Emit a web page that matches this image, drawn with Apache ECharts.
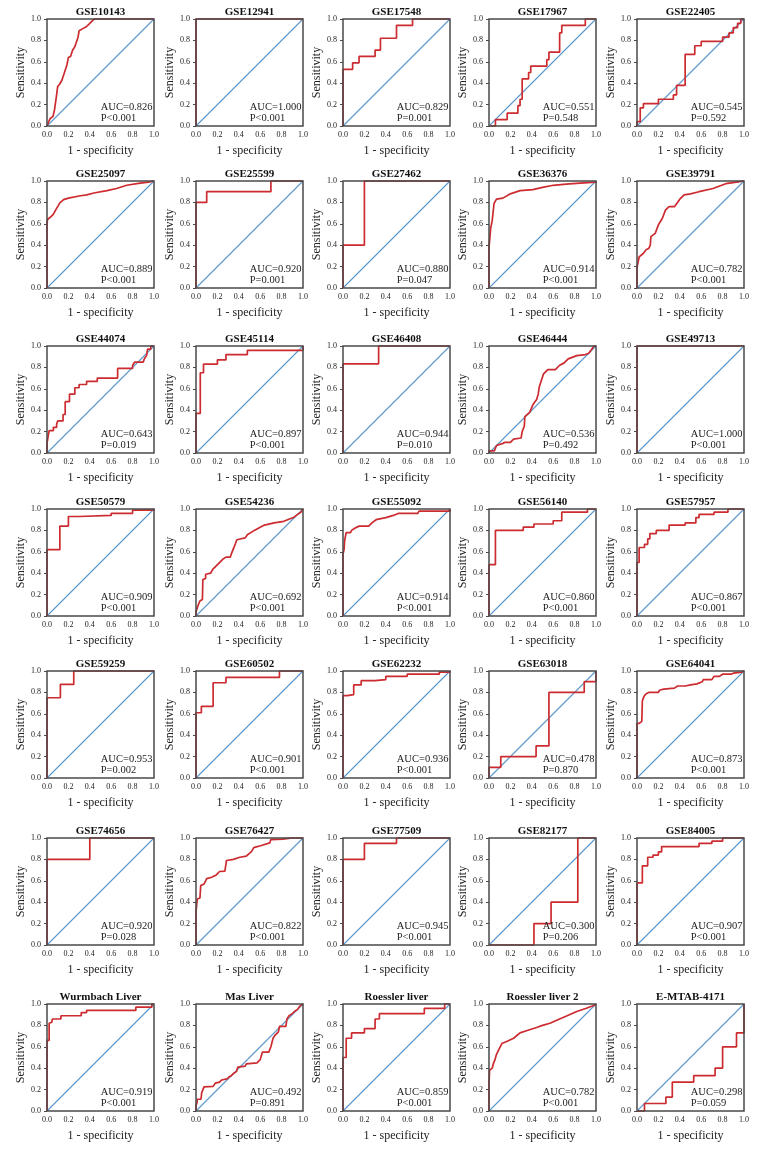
<!DOCTYPE html>
<html><head><meta charset="utf-8">
<script src="https://cdn.jsdelivr.net/npm/echarts@6/dist/echarts.min.js"></script>
<style>html,body{margin:0;padding:0;background:#fff}#c{width:765px;height:1154px}</style>
</head><body><div id="c"></div>
<script>
const names = ['GSE10143','GSE12941','GSE17548','GSE17967','GSE22405',
 'GSE25097','GSE25599','GSE27462','GSE36376','GSE39791',
 'GSE44074','GSE45114','GSE46408','GSE46444','GSE49713',
 'GSE50579','GSE54236','GSE55092','GSE56140','GSE57957',
 'GSE59259','GSE60502','GSE62232','GSE63018','GSE64041',
 'GSE74656','GSE76427','GSE77509','GSE82177','GSE84005',
 'Wurmbach Liver','Mas Liver','Roessler liver','Roessler liver 2','E-MTAB-4171'];
const aucs = ['0.826','1.000','0.829','0.551','0.545',
 '0.889','0.920','0.880','0.914','0.782',
 '0.643','0.897','0.944','0.536','1.000',
 '0.909','0.692','0.914','0.860','0.867',
 '0.953','0.901','0.936','0.478','0.873',
 '0.920','0.822','0.945','0.300','0.907',
 '0.919','0.492','0.859','0.782','0.298'];
const pvals = ['P<0.001','P<0.001','P=0.001','P=0.548','P=0.592',
 'P<0.001','P=0.001','P=0.047','P<0.001','P<0.001',
 'P=0.019','P<0.001','P=0.010','P=0.492','P<0.001',
 'P<0.001','P<0.001','P<0.001','P<0.001','P<0.001',
 'P=0.002','P<0.001','P<0.001','P=0.870','P<0.001',
 'P=0.028','P<0.001','P<0.001','P=0.206','P<0.001',
 'P<0.001','P=0.891','P<0.001','P<0.001','P=0.059'];
const diag = [[0,0],[1,1]];

const roc01 = [[0,0],[0.016,0.04],[0.03,0.07],[0.056,0.09],[0.07,0.15],[0.087,0.27],[0.1,0.37],[0.118,0.39],[0.14,0.43],[0.16,0.49],[0.186,0.57],[0.2,0.64],[0.22,0.65],[0.24,0.71],[0.26,0.74],[0.29,0.83],[0.3,0.89],[0.335,0.91],[0.37,0.93],[0.4,0.96],[0.43,0.99],[0.45,1],[1,1]];
const roc02 = [[0,0],[0,1],[1,1]];
const roc03 = [[0,0],[0,0.53],[0.09,0.53],[0.09,0.59],[0.15,0.59],[0.15,0.65],[0.3,0.65],[0.3,0.71],[0.35,0.71],[0.35,0.82],[0.5,0.82],[0.5,0.94],[0.65,0.94],[0.65,1],[1,1]];
const roc04 = [[0,0],[0.06,0],[0.06,0.06],[0.17,0.06],[0.17,0.12],[0.27,0.12],[0.27,0.19],[0.29,0.19],[0.29,0.25],[0.31,0.25],[0.31,0.44],[0.37,0.44],[0.37,0.5],[0.39,0.5],[0.39,0.56],[0.54,0.56],[0.54,0.62],[0.56,0.62],[0.56,0.69],[0.66,0.69],[0.66,0.87],[0.68,0.87],[0.68,0.94],[0.9,0.94],[0.9,1],[1,1]];
const roc05 = [[0,0],[0,0.04],[0.03,0.04],[0.03,0.17],[0.06,0.17],[0.06,0.21],[0.2,0.21],[0.2,0.25],[0.34,0.25],[0.34,0.29],[0.37,0.29],[0.37,0.38],[0.45,0.38],[0.45,0.67],[0.54,0.67],[0.54,0.75],[0.6,0.75],[0.6,0.79],[0.8,0.79],[0.8,0.83],[0.86,0.83],[0.86,0.87],[0.9,0.87],[0.9,0.92],[0.94,0.92],[0.94,0.96],[0.97,0.96],[0.97,1],[1,1]];
const roc06 = [[0,0],[0,0.6],[0.005,0.64],[0.02,0.65],[0.04,0.67],[0.06,0.69],[0.087,0.74],[0.12,0.795],[0.155,0.826],[0.2,0.84],[0.3,0.86],[0.37,0.87],[0.45,0.89],[0.56,0.91],[0.65,0.93],[0.745,0.96],[0.87,0.98],[0.95,0.99],[1,1]];
const roc07 = [[0,0],[0,0.8],[0.1,0.8],[0.1,0.9],[0.7,0.9],[0.7,1],[1,1]];
const roc08 = [[0,0],[0,0.4],[0.2,0.4],[0.2,1],[1,1]];
const roc09 = [[0,0],[0,0.38],[0.01,0.39],[0.016,0.56],[0.03,0.63],[0.04,0.72],[0.047,0.79],[0.07,0.83],[0.13,0.84],[0.2,0.88],[0.29,0.91],[0.41,0.92],[0.5,0.94],[0.6,0.96],[0.72,0.97],[0.85,0.98],[1,0.99],[1,1]];
const roc10 = [[0,0],[0,0.19],[0.01,0.19],[0.02,0.29],[0.056,0.32],[0.087,0.36],[0.11,0.37],[0.124,0.4],[0.13,0.48],[0.17,0.51],[0.2,0.59],[0.236,0.65],[0.267,0.73],[0.3,0.76],[0.35,0.76],[0.4,0.83],[0.44,0.87],[0.5,0.88],[0.58,0.9],[0.71,0.93],[0.83,0.975],[0.93,0.99],[1,1]];
const roc11 = [[0,0],[0,0.09],[0.01,0.15],[0.02,0.15],[0.02,0.21],[0.06,0.21],[0.06,0.24],[0.09,0.24],[0.09,0.27],[0.1,0.3],[0.15,0.3],[0.15,0.36],[0.17,0.36],[0.17,0.48],[0.21,0.48],[0.21,0.55],[0.26,0.55],[0.26,0.61],[0.3,0.61],[0.3,0.64],[0.37,0.64],[0.37,0.67],[0.47,0.67],[0.47,0.7],[0.66,0.7],[0.66,0.79],[0.8,0.79],[0.8,0.82],[0.82,0.85],[0.9,0.85],[0.91,0.88],[0.93,0.91],[0.94,0.97],[0.97,0.97],[0.97,1],[1,1]];
const roc12 = [[0,0],[0,0.37],[0.04,0.37],[0.04,0.75],[0.07,0.75],[0.07,0.83],[0.2,0.83],[0.2,0.87],[0.28,0.87],[0.28,0.92],[0.48,0.92],[0.48,0.96],[1,0.96],[1,1]];
const roc13 = [[0,0],[0,0.833],[0.333,0.833],[0.333,1],[1,1]];
const roc14 = [[0,0],[0,0.02],[0.05,0.02],[0.056,0.03],[0.07,0.07],[0.087,0.087],[0.13,0.09],[0.15,0.1],[0.2,0.1],[0.23,0.13],[0.3,0.14],[0.31,0.2],[0.33,0.25],[0.335,0.34],[0.38,0.38],[0.41,0.45],[0.445,0.5],[0.46,0.55],[0.47,0.62],[0.49,0.68],[0.51,0.74],[0.55,0.78],[0.62,0.78],[0.66,0.82],[0.7,0.84],[0.74,0.88],[0.82,0.91],[0.9,0.92],[0.93,0.93],[0.96,0.97],[0.98,1],[1,1]];
const roc15 = [[0,0],[0,1],[1,1]];
const roc16 = [[0,0],[0,0.62],[0.12,0.62],[0.12,0.84],[0.2,0.84],[0.2,0.93],[0.3,0.93],[0.3,0.94],[0.6,0.94],[0.6,0.96],[0.8,0.96],[0.8,0.99],[1,0.99],[1,1]];
const roc17 = [[0,0],[0,0.04],[0.014,0.05],[0.02,0.1],[0.036,0.14],[0.06,0.155],[0.064,0.34],[0.09,0.35],[0.09,0.39],[0.136,0.4],[0.16,0.44],[0.18,0.46],[0.21,0.49],[0.25,0.53],[0.28,0.55],[0.32,0.55],[0.33,0.58],[0.35,0.63],[0.37,0.68],[0.38,0.71],[0.41,0.72],[0.46,0.73],[0.48,0.76],[0.545,0.8],[0.6,0.83],[0.64,0.85],[0.73,0.87],[0.82,0.885],[0.91,0.92],[0.95,0.95],[0.98,0.97],[1,1]];
const roc18 = [[0,0],[0,0.58],[0.01,0.62],[0.015,0.7],[0.02,0.73],[0.03,0.78],[0.07,0.78],[0.08,0.8],[0.11,0.82],[0.15,0.84],[0.24,0.84],[0.27,0.87],[0.31,0.9],[0.4,0.92],[0.47,0.94],[0.52,0.96],[0.7,0.96],[0.71,0.98],[1,0.98],[1,1]];
const roc19 = [[0,0],[0,0.48],[0.06,0.48],[0.06,0.8],[0.32,0.8],[0.32,0.83],[0.42,0.83],[0.42,0.86],[0.6,0.86],[0.6,0.89],[0.68,0.89],[0.68,0.97],[0.92,0.97],[0.92,1],[1,1]];
const roc20 = [[0,0],[0,0.5],[0.02,0.5],[0.02,0.64],[0.07,0.64],[0.07,0.67],[0.1,0.67],[0.1,0.72],[0.12,0.72],[0.12,0.77],[0.18,0.77],[0.18,0.8],[0.3,0.8],[0.3,0.85],[0.45,0.85],[0.45,0.87],[0.55,0.87],[0.55,0.92],[0.58,0.92],[0.58,0.95],[0.72,0.95],[0.72,0.97],[0.85,0.97],[0.85,1],[1,1]];
const roc21 = [[0,0],[0,0.75],[0.125,0.75],[0.125,0.875],[0.25,0.875],[0.25,1],[1,1]];
const roc22 = [[0,0],[0,0.61],[0.05,0.61],[0.05,0.67],[0.16,0.67],[0.16,0.89],[0.28,0.89],[0.28,0.94],[0.78,0.94],[0.78,1],[1,1]];
const roc23 = [[0,0],[0,0.77],[0.04,0.77],[0.04,0.78],[0.1,0.78],[0.1,0.87],[0.17,0.87],[0.17,0.91],[0.3,0.91],[0.3,0.92],[0.4,0.92],[0.4,0.95],[0.6,0.95],[0.6,0.97],[0.9,0.97],[0.9,0.99],[1,0.99],[1,1]];
const roc24 = [[0,0],[0,0.1],[0.11,0.1],[0.11,0.2],[0.44,0.2],[0.44,0.3],[0.56,0.3],[0.56,0.8],[0.89,0.8],[0.89,0.9],[1,0.9],[1,1]];
const roc25 = [[0,0],[0,0.51],[0.02,0.51],[0.02,0.52],[0.045,0.53],[0.05,0.72],[0.06,0.75],[0.07,0.77],[0.09,0.79],[0.11,0.8],[0.2,0.8],[0.21,0.82],[0.25,0.83],[0.35,0.84],[0.38,0.86],[0.45,0.86],[0.5,0.87],[0.56,0.88],[0.61,0.9],[0.62,0.92],[0.7,0.92],[0.72,0.95],[0.77,0.95],[0.8,0.97],[0.88,0.97],[0.9,0.98],[0.98,0.99],[1,1]];
const roc26 = [[0,0],[0,0.8],[0.4,0.8],[0.4,1],[1,1]];
const roc27 = [[0,0],[0,0.31],[0.01,0.31],[0.012,0.43],[0.037,0.44],[0.044,0.555],[0.075,0.57],[0.09,0.6],[0.1,0.62],[0.146,0.633],[0.19,0.655],[0.22,0.687],[0.27,0.69],[0.285,0.79],[0.35,0.8],[0.41,0.82],[0.47,0.83],[0.52,0.875],[0.54,0.91],[0.61,0.93],[0.69,0.955],[0.7,0.985],[0.81,0.99],[0.9,1],[1,1]];
const roc28 = [[0,0],[0,0.8],[0.2,0.8],[0.2,0.95],[0.5,0.95],[0.5,1],[1,1]];
const roc29 = [[0,0],[0.42,0],[0.42,0.2],[0.58,0.2],[0.58,0.4],[0.83,0.4],[0.83,1],[1,1]];
const roc30 = [[0,0],[0,0.58],[0.05,0.58],[0.05,0.74],[0.1,0.74],[0.1,0.82],[0.15,0.82],[0.15,0.84],[0.2,0.84],[0.2,0.87],[0.23,0.87],[0.23,0.92],[0.58,0.92],[0.58,0.95],[0.7,0.95],[0.7,0.97],[0.8,0.97],[0.8,1],[1,1]];
const roc31 = [[0,0],[0,0.66],[0.02,0.66],[0.02,0.82],[0.045,0.83],[0.05,0.86],[0.13,0.86],[0.13,0.89],[0.32,0.89],[0.32,0.92],[0.37,0.92],[0.37,0.94],[0.83,0.94],[0.83,0.97],[0.98,0.97],[0.98,1],[1,1]];
const roc32 = [[0,0],[0,0.05],[0.01,0.08],[0.012,0.11],[0.047,0.11],[0.053,0.17],[0.065,0.2],[0.075,0.225],[0.16,0.23],[0.18,0.26],[0.22,0.27],[0.24,0.29],[0.29,0.3],[0.31,0.32],[0.33,0.33],[0.35,0.35],[0.38,0.37],[0.39,0.41],[0.4,0.42],[0.46,0.42],[0.47,0.44],[0.57,0.45],[0.6,0.48],[0.62,0.55],[0.68,0.55],[0.7,0.6],[0.71,0.64],[0.72,0.68],[0.74,0.71],[0.77,0.74],[0.78,0.79],[0.84,0.79],[0.85,0.86],[0.87,0.89],[0.9,0.91],[0.92,0.93],[0.95,0.95],[0.97,0.98],[1,1]];
const roc33 = [[0,0],[0,0.5],[0.03,0.5],[0.03,0.68],[0.08,0.68],[0.08,0.73],[0.2,0.73],[0.2,0.77],[0.3,0.77],[0.3,0.86],[0.34,0.86],[0.34,0.91],[0.76,0.91],[0.76,0.96],[0.95,0.96],[0.95,1],[1,1]];
const roc34 = [[0,0],[0,0.24],[0.005,0.38],[0.01,0.39],[0.03,0.4],[0.04,0.44],[0.056,0.48],[0.07,0.53],[0.085,0.56],[0.1,0.59],[0.12,0.63],[0.165,0.65],[0.23,0.68],[0.29,0.73],[0.35,0.75],[0.445,0.78],[0.5,0.8],[0.57,0.82],[0.66,0.86],[0.73,0.89],[0.82,0.93],[0.91,0.96],[0.99,0.99],[1,1]];
const roc35 = [[0,0],[0.07,0],[0.07,0.07],[0.27,0.07],[0.27,0.13],[0.33,0.13],[0.33,0.27],[0.53,0.27],[0.53,0.33],[0.73,0.33],[0.73,0.4],[0.8,0.4],[0.8,0.6],[0.93,0.6],[0.93,0.73],[1,0.73],[1,1]];

const curves = [roc01,roc02,roc03,roc04,roc05,roc06,roc07,roc08,roc09,roc10,
 roc11,roc12,roc13,roc14,roc15,roc16,roc17,roc18,roc19,roc20,
 roc21,roc22,roc23,roc24,roc25,roc26,roc27,roc28,roc29,roc30,
 roc31,roc32,roc33,roc34,roc35];

const colLeft = [47,196,343,489,637];
const rowTop = [19,181,346,509,671,838,1004];
const W = 107, H = 107, CW = 765, CH = 1154;
const FONT = '"Liberation Serif","Times New Roman",serif';
const BLUE = '#5b97cc', RED = '#cc2b30';

const grids = [], xAxes = [], yAxes = [], series = [], titles = [], graphics = [];
names.forEach((nm, i) => {
  const r = Math.floor(i / 5), c = i % 5;
  const L = colLeft[c], T = rowTop[r];
  grids.push({left: L, top: T, width: W, height: H, show: true, z: 10,
    backgroundColor: 'transparent', borderColor: '#4a4a4a', borderWidth: 1.5,
    containLabel: false, outerBoundsMode: 'none'});
  xAxes.push({gridIndex: i, type: 'value', min: 0, max: 1, interval: 0.2,
    axisLine: {show: false}, axisTick: {show: false}, splitLine: {show: false},
    axisLabel: {fontFamily: FONT, fontSize: 8, color: '#222', margin: 5,
      formatter: v => v.toFixed(1)},
    name: '1 - specificity', nameLocation: 'middle', nameGap: 19,
    nameTextStyle: {fontFamily: FONT, fontSize: 12, color: '#222'}});
  yAxes.push({gridIndex: i, type: 'value', min: 0, max: 1, interval: 0.2,
    axisLine: {show: false},
    axisTick: {show: true, inside: false, length: 3, lineStyle: {color: '#4a4a4a', width: 1}},
    splitLine: {show: false},
    axisLabel: {fontFamily: FONT, fontSize: 8, color: '#222', margin: 6,
      formatter: v => v.toFixed(1)},
    name: 'Sensitivity', nameLocation: 'middle', nameGap: 20,
    nameTextStyle: {fontFamily: FONT, fontSize: 12, color: '#222'}});
  series.push({type: 'line', xAxisIndex: i, yAxisIndex: i, data: diag.slice(), symbol: 'none',
    color: BLUE, itemStyle: {color: BLUE},
    lineStyle: {color: BLUE, width: 1.1, opacity: 1}, silent: true, z: 2});
  series.push({type: 'line', xAxisIndex: i, yAxisIndex: i, data: curves[i], symbol: 'none',
    color: RED, itemStyle: {color: RED},
    lineStyle: {color: RED, width: 1.7}, silent: true, z: 3, clip: false});
  titles.push({text: nm, left: L + W / 2, top: T - 12.5, textAlign: 'center', padding: 0,
    textStyle: {fontFamily: FONT, fontSize: 11, fontWeight: 'bold', color: '#111', lineHeight: 12}});
  graphics.push({type: 'text', right: CW - (L + W) + 1.5, bottom: CH - (T + H) + 2, z: 20,
    style: {text: 'AUC=' + aucs[i] + '\n' + pvals[i], fill: '#222',
      fontFamily: FONT, fontSize: 10.5, lineHeight: 11, align: 'left'}});
});

const chart = echarts.init(document.getElementById('c'), null, {renderer: 'canvas'});
chart.setOption({
  animation: false,
  backgroundColor: '#fff',
  title: titles,
  grid: grids,
  xAxis: xAxes,
  yAxis: yAxes,
  series: series,
  graphic: graphics
});
</script></body></html>
